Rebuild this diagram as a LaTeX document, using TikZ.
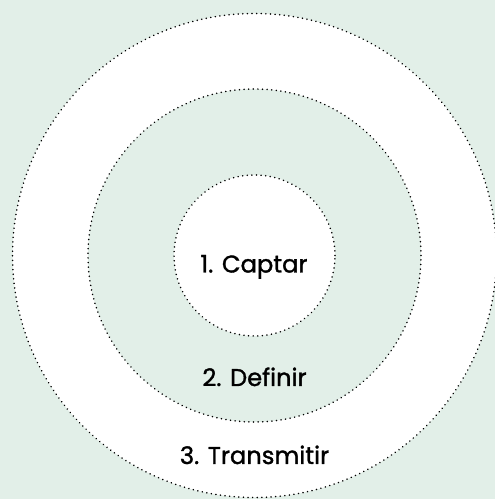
\documentclass[tikz,border=0pt]{standalone}
\usepackage{fontspec}
\setmainfont{Poppins}
\newfontfamily\lblfont[FakeBold=1.3]{Poppins}
\definecolor{bggreen}{HTML}{E2EFE8}
\begin{document}
\begin{tikzpicture}[x=1pt,y=1pt,
  ring/.style={circle, draw=black, line width=1.7pt, dash pattern=on 0.01pt off 4.6pt, line cap=round, inner sep=0pt},
  lbl/.style={font=\lblfont\fontsize{24.2}{26}\selectfont, text=black, anchor=base, inner sep=0pt}]
\fill[bggreen] (0,0) rectangle (495,499);
\useasboundingbox (0,0) rectangle (495,499);
\node[ring, fill=white, minimum size=484pt] (outer) at (254.5,243.5) {};
\node[ring, fill=bggreen, minimum size=333pt] (middle) at (254.5,243.5) {};
\node[ring, fill=white, minimum size=161pt] (inner) at (254.5,243.5) {};
\node[lbl] (t1) at (254,226.5) {1. Captar};
\node[lbl] (t2) at (254.5,113) {2. Definir};
\node[lbl] (t3) at (254.5,35) {3. Transmitir};
\end{tikzpicture}
\end{document}
